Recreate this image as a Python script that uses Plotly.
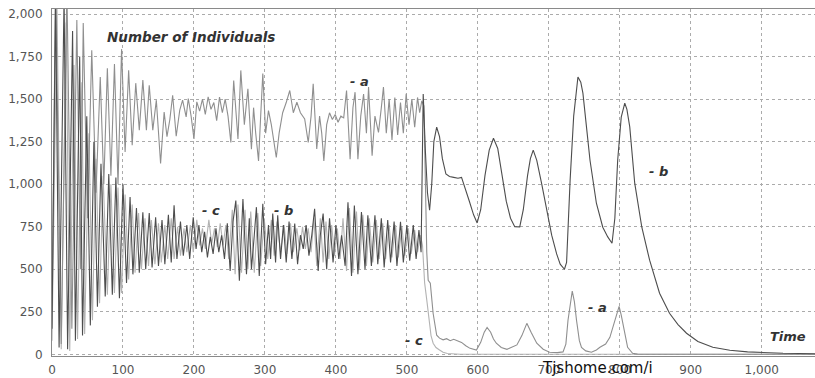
import plotly.graph_objects as go

# (time, number of individuals)
series_a = [(0,250),(5,2150),(13,60),(21,2150),(28,150),(35,1965),(40,500),(44,1947),(50,800),(56,1788),(62,950),(68,1630),(73,1000),(78,1682),(83,1050),(88,1706),(93,1000),(98,1794),(103,1190),(108,1670),(113,1229),(118,1594),(123,1318),(128,1612),(133,1318),(137,1582),(142,1318),(147,1494),(153,1122),(158,1424),(162,1280),(166,1380),(170,1523),(175,1282),(180,1435),(184,1494),(189,1396),(192,1504),(196,1400),(200,1266),(204,1484),(208,1430),(212,1500),(216,1410),(220,1514),(224,1440),(228,1480),(232,1374),(236,1512),(240,1420),(244,1500),(248,1400),(252,1246),(256,1610),(262,1266),(266,1669),(271,1350),(276,1561),(281,1206),(284,1450),(287,1300),(291,1137),(294,1400),(297,1650),(301,1300),(305,1433),(309,1350),(313,1250),(316,1157),(320,1300),(325,1420),(330,1480),(335,1551),(340,1420),(345,1482),(350,1420),(356,1384),(361,1246),(365,1400),(368,1590),(373,1207),(377,1400),(380,1300),(383,1137),(387,1350),(391,1420),(395,1380),(399,1410),(403,1364),(407,1400),(411,1390),(415,1551),(420,1147),(424,1450),(427,1541),(431,1147),(435,1400),(439,1530),(443,1300),(446,1571),(451,1167),(455,1400),(460,1305),(464,1450),(467,1571),(471,1300),(475,1500),(479,1260),(483,1510),(487,1290),(491,1480),(495,1300),(499,1531),(503,1350),(507,1500),(511,1335),(515,1510),(518,1420),(521,1490),(524,1460),(526,1000),(528,600),(530,435),(533,418),(537,240),(542,112),(546,95),(551,85),(556,92),(561,80),(566,88),(571,78),(577,70),(583,50),(589,35),(598,25),(604,70),(609,130),(613,158),(618,130),(622,90),(626,65),(633,40),(641,29),(648,40),(655,55),(662,110),(669,182),(675,130),(683,65),(692,30),(701,12),(712,10),(720,14),(724,60),(727,200),(733,372),(736,310),(739,200),(743,80),(746,40),(752,20),(760,12),(767,25),(772,41),(780,60),(786,100),(793,200),(799,282),(802,230),(805,160),(811,41),(818,6),(825,1),(840,0),(1075,0)]

series_b = [(0,150),(5,2100),(10,40),(17,2100),(22,30),(29,1900),(33,80),(39,1750),(43,110),(49,1400),(54,170),(59,1250),(64,280),(69,1120),(75,340),(80,1060),(85,350),(90,1040),(95,330),(100,1000),(105,420),(110,925),(114,470),(119,860),(123,480),(128,835),(132,500),(137,830),(141,510),(146,806),(150,520),(155,790),(159,530),(164,820),(168,540),(172,876),(176,560),(181,780),(185,580),(190,760),(194,560),(199,806),(203,620),(207,760),(211,600),(215,720),(219,570),(223,690),(227,590),(231,740),(235,600),(239,700),(243,560),(247,770),(251,490),(255,780),(259,904),(264,433),(269,913),(274,471),(278,800),(281,500),(285,700),(288,865),(292,461),(297,885),(301,530),(305,760),(308,560),(311,827),(315,540),(318,817),(322,560),(326,760),(330,540),(334,780),(338,560),(342,769),(346,530),(350,700),(354,620),(358,760),(362,580),(366,700),(370,856),(375,490),(378,700),(382,827),(387,500),(391,800),(396,540),(400,760),(404,560),(408,700),(413,520),(417,894),(422,461),(426,875),(431,471),(436,836),(441,500),(445,817),(450,520),(455,817),(459,530),(464,800),(468,510),(473,790),(477,540),(482,780),(486,520),(491,779),(495,540),(500,760),(504,550),(509,760),(513,560),(517,730),(520,600),(523,1530),(526,1200),(529,950),(532,847),(535,1000),(538,1250),(542,1335),(546,1280),(550,1150),(555,1060),(560,1045),(566,1040),(572,1035),(577,1040),(582,980),(588,900),(594,820),(599,772),(604,850),(610,1050),(616,1200),(622,1270),(628,1210),(634,1050),(640,900),(646,800),(652,750),(659,749),(664,850),(670,1050),(674,1150),(678,1200),(683,1140),(690,1000),(697,850),(704,700),(711,590),(716,530),(722,500),(725,540),(730,1024),(735,1400),(741,1630),(745,1600),(748,1535),(753,1330),(758,1141),(767,888),(776,747),(783,690),(789,653),(793,800),(797,1141),(802,1394),(807,1476),(810,1440),(814,1337),(821,1006),(831,747),(842,553),(856,359),(870,241),(882,175),(894,124),(910,75),(931,41),(955,24),(980,14),(1000,10),(1030,6),(1075,3)]

series_c = [(0,80),(7,2050),(13,30),(20,1950),(25,20),(31,1700),(36,90),(42,1600),(46,120),(52,1300),(57,200),(62,1150),(67,300),(72,1050),(78,350),(83,1000),(88,360),(93,980),(98,360),(103,940),(108,440),(113,880),(117,480),(122,830),(126,500),(131,800),(136,520),(140,790),(145,530),(150,770),(154,540),(159,760),(163,560),(168,800),(172,560),(177,750),(181,580),(186,740),(190,600),(195,760),(199,600),(204,790),(208,640),(212,740),(216,620),(221,790),(225,650),(229,740),(233,630),(237,770),(241,640),(245,760),(249,560),(254,850),(258,470),(262,880),(267,480),(272,850),(276,500),(280,840),(285,480),(290,830),(294,520),(299,800),(304,560),(309,790),(313,580),(317,780),(322,600),(327,760),(331,590),(336,770),(340,600),(345,740),(349,610),(353,750),(357,620),(361,740),(365,600),(369,800),(373,520),(378,800),(382,540),(386,780),(390,560),(394,760),(398,580),(402,740),(406,560),(410,800),(415,490),(419,860),(424,480),(429,840),(433,500),(438,820),(443,520),(447,800),(452,540),(457,790),(461,560),(466,770),(470,560),(475,760),(479,570),(484,760),(488,570),(493,750),(497,580),(502,740),(506,590),(511,730),(515,600),(519,700),(522,640),(525,420),(528,320),(531,200),(534,110),(537,65),(541,40),(546,25),(551,12),(557,5),(565,1),(575,0),(1075,0)]

x_ticks = [0, 100, 200, 300, 400, 500, 600, 700, 800, 900, 1000]
y_ticks = [0, 250, 500, 750, 1000, 1250, 1500, 1750, 2000]

fig = go.Figure()
styles = [(series_c, "#b3b3b3", "c"), (series_a, "#8f8f8f", "a"), (series_b, "#4d4d4d", "b")]
for data, color, name in styles:
    fig.add_trace(go.Scatter(x=[p[0] for p in data], y=[p[1] for p in data],
                             mode="lines", name=name,
                             line=dict(color=color, width=1.1), hoverinfo="skip"))

lab = dict(family="DejaVu Sans", size=13, color="#333333", weight="bold", style="italic")
labels = [
    ("Number of Individuals", 74.6, 1865, "left", 13.5),
    ("- a", 417, 1606, "left", 13),
    ("- c", 208, 847, "left", 13),
    ("- b", 310, 847, "left", 13),
    ("- b", 839, 1076, "left", 13),
    ("- a", 753, 276, "left", 13),
    ("- c", 494, 82, "left", 13),
    ("Time", 1065, 106, "right", 13),
]
for text, x, y, anchor, size in labels:
    f = dict(lab)
    f["size"] = size
    fig.add_annotation(x=x, y=y, xref="x", yref="y", text=text, showarrow=False,
                       xanchor=anchor, yanchor="middle", font=f)

fig.add_annotation(x=768, y=-0.035, xref="x", yref="paper", yanchor="middle",
                   text="Tjshome.com/i", showarrow=False,
                   font=dict(family="DejaVu Sans", size=15, color="#111111"))

axis_common = dict(showgrid=True, gridcolor="#ababab", griddash="dot", gridwidth=1,
                   zeroline=False, showline=True, linecolor="#8a8a8a", linewidth=1,
                   tickfont=dict(family="DejaVu Sans", size=12, color="#555555"),
                   tickformat=",d", ticks="", automargin=False)
fig.update_xaxes(range=[0, 1075], tickvals=x_ticks, mirror=True, ticklabelstandoff=3,
                 **axis_common)
fig.update_yaxes(range=[-10, 2030], tickvals=y_ticks, ticklabelstandoff=6, **axis_common)

fig.update_layout(width=815, height=378, margin=dict(l=52, r=0, t=9, b=22),
                  plot_bgcolor="white", paper_bgcolor="white", showlegend=False)

fig.write_html("out.html", config={"displayModeBar": False},
               post_script="document.body.style.margin='0';")
